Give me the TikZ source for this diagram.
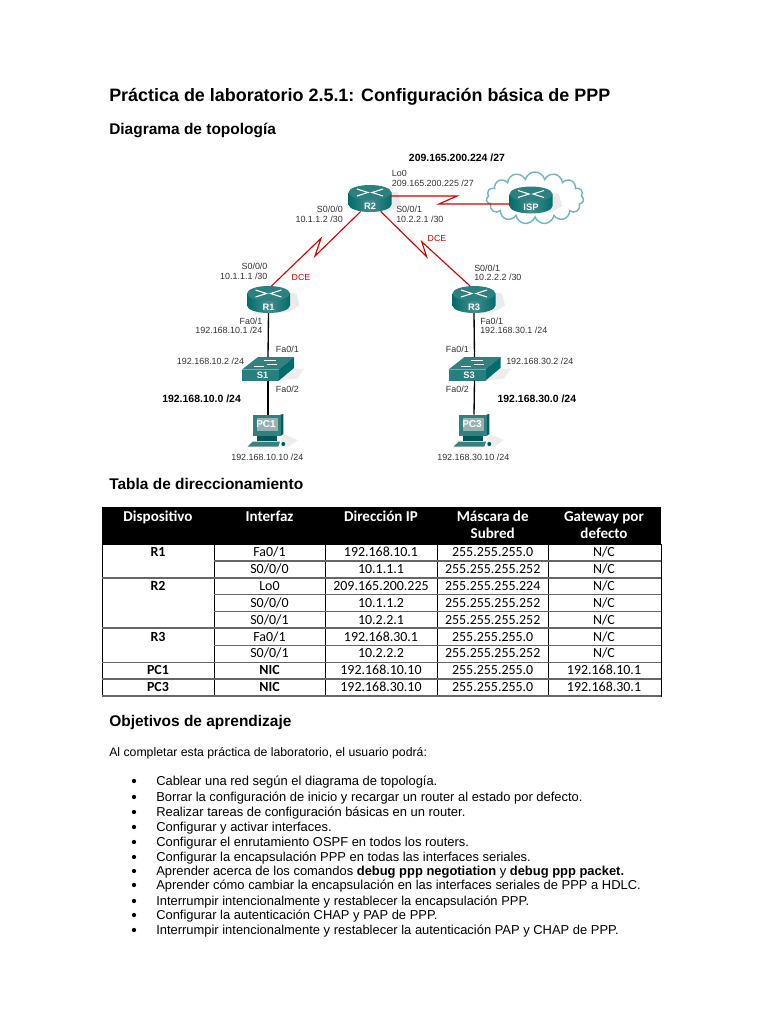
\documentclass[tikz,border=0pt]{standalone}
\usepackage{fontspec}
\setmainfont{Liberation Sans}
\newfontfamily\tablefont{Carlito}
\usetikzlibrary{shapes.symbols}

\begin{document}
\begin{tikzpicture}[
  x=0.75pt, y=-0.75pt,
  routericon/.pic={
    \fill[gray!35, opacity=.45] (6,-9) -- (28,-6) -- (31,6) -- (21,12) -- (6,14) -- cycle;
    \shade[left color=teal!85!black, right color=teal!85!black, middle color=teal!60!gray!90]
      (-21.5,-6) -- (-21.5,6) .. controls (-21.5,10.2) and (-11.9,13.5) .. (0,13.5)
      .. controls (11.9,13.5) and (21.5,10.2) .. (21.5,6) -- (21.5,-6) -- cycle;
    \fill[teal!65!gray] (0,-6) ellipse (21.5 and 7.5);
    \draw[white, line width=0.8pt] (-13,-9.5) -- (-2,-6) -- (-13,-2.5);
    \draw[white, line width=0.8pt] (13,-9.5) -- (2,-6) -- (13,-2.5);
    \node[text=white, font=\fontsize{7}{8}\selectfont\bfseries, inner sep=0pt] (-name) at (0,7.5) {#1};
    \coordinate (-sw) at (-9.3,13);
    \coordinate (-se) at (10.7,13);
    \coordinate (-e) at (20.5,-2.5);
    \coordinate (-w) at (-21,4);
    \coordinate (-s) at (0,13.5);
    \coordinate (-ne) at (3,-13.5);
    \coordinate (-nw) at (-4,-13.5);
  },
  switchicon/.pic={
    \fill[gray!35, opacity=.4] (11,11) -- (30,9) -- (36,-1) -- (26,-1) -- cycle;
    \fill[teal!60!gray] (-26,0) -- (-10,-12.5) -- (26,-12.5) -- (11,0) -- cycle;
    \fill[teal!85!black] (11,0) -- (26,-12.5) -- (26,-1.5) -- (11,11) -- cycle;
    \fill[teal!70!gray] (-26,0) rectangle (11,11);
    \draw[white, line width=0.6pt] (-4,-9.5) -- (8,-9.5) (-14,-3) -- (-4,-3) (-1,-5) -- (9,-5);
    \node[text=white, font=\fontsize{7}{8}\selectfont\bfseries, inner sep=0pt] (-name) at (-5.5,5.5) {#1};
    \coordinate (-top) at (0,-12.5);
    \coordinate (-bot) at (0,11);
  },
  pcicon/.pic={
    \fill[gray!35, opacity=.4] (15,20) -- (30,26) -- (20,33) -- (12,33) -- cycle;
    \fill[teal!75!black] (12.7,0.5) -- (15.3,0) -- (15.3,20) -- (12.7,22) -- cycle;
    \fill[teal!60!gray] (-14.7,0.5) rectangle (12.7,22);
    \fill[teal!35!gray!60] (-11.5,3.5) rectangle (9.5,17);
    \fill[teal!70!black] (-11.3,22) rectangle (8.7,26.7);
    \fill[teal!55!gray] (-20.7,32.7) -- (-15.3,27.7) -- (12,27.7) -- (10.3,32.7) -- cycle;
    \fill[teal!70!black] (15.3,30) ellipse (2 and 2);
    \node[text=white, font=\fontsize{7.5}{8}\selectfont\bfseries, inner sep=0pt] (-name) at (-2,10.5) {#1};
    \coordinate (-top) at (0,0.5);
  },
  ispcloud/.style={
    cloud, cloud puffs=15, cloud ignores aspect, draw=teal!55!white, line width=1.1pt, fill=white,
    minimum width=73pt, minimum height=39pt, inner sep=0pt
  },
  serial/.style={red!85!black, line width=0.85pt},
  lan/.style={black, line width=1pt},
  addr/.style={inner sep=0pt, text=black!80, text height=.72em, text depth=0pt, font=\fontsize{6.7}{8}\selectfont},
  netaddr/.style={inner sep=0pt, text height=.72em, text depth=0pt, font=\fontsize{7.85}{9}\selectfont\bfseries},
  dcelabel/.style={inner sep=0pt, text=red!80!black, text height=.72em, text depth=0pt, font=\fontsize{6.6}{8}\selectfont},
  heading/.style={anchor=west, inner sep=0pt, text height=.72em, text depth=0pt, font=\fontsize{11.6}{13}\selectfont\bfseries},
  bodytext/.style={anchor=west, inner sep=0pt, text height=.72em, text depth=0pt, font=\fontsize{9.7}{11}\selectfont},
  dotmark/.style={circle, fill=black, inner sep=0pt, minimum size=3.2pt},
  headcell/.style={inner sep=0pt, text=white, text height=.62em, text depth=0pt, font=\tablefont\fontsize{11.3}{13}\selectfont\bfseries},
  cell/.style={inner sep=0pt, text height=.62em, text depth=0pt, font=\tablefont\fontsize{10.45}{12}\selectfont},
  boldcell/.style={cell, font=\tablefont\fontsize{10.45}{12}\selectfont\bfseries},
  rowline/.style={black!60, line width=1pt},
  colline/.style={black, line width=0.6pt},
]
\useasboundingbox (0,0) rectangle (768,1024);

%% Headings
\node[heading, font=\fontsize{13.45}{15}\selectfont\bfseries] (title) at (109,96.5) {Práctica de laboratorio 2.5.1: Configuración básica de PPP};
\node[heading] (topo) at (109,130) {Diagrama de topología};
\node[heading] (tabla) at (109,485) {Tabla de direccionamiento};
\node[heading] (obj) at (109,722) {Objetivos de aprendizaje};

%% Topology devices
\node[ispcloud] (cloud) at (535,198) {};
\pic (r2) at (370,198.5) {routericon=R2};
\pic (r1) at (268.5,299.5) {routericon=R1};
\pic (r3) at (474,299.5) {routericon=R3};
\pic (isp) at (531,200) {routericon=ISP};
\pic (s1) at (268,369.5) {switchicon=S1};
\pic (s3) at (474.5,369.5) {switchicon=S3};
\pic (pc1) at (268,414) {pcicon=PC1};
\pic (pc3) at (474,414) {pcicon=PC3};

%% Serial links
\draw[serial] (r2-e) -- (457,196) -- (439,204) -- (isp-w);
\draw[serial] (r2-sw) -- (315,256) -- (321,238.3) -- (r1-ne);
\draw[serial] (r2-se) -- (426.7,256.7) -- (421.7,241.7) -- (r3-nw);

%% Ethernet links
\draw[lan] (r1-s) -- (s1-top);
\draw[lan] (s1-bot) -- (pc1-top);
\draw[lan] (r3-s) -- (s3-top);
\draw[lan] (s3-bot) -- (pc3-top);

%% Topology labels
\node[netaddr] (lonet) at (457,157) {209.165.200.224 /27};
\node[addr, anchor=west] (r2lo) at (391.7,172) {Lo0};
\node[addr, anchor=west] (r2loip) at (391.7,181.5) {209.165.200.225 /27};
\node[addr, anchor=east] (r2s0) at (343,208) {S0/0/0};
\node[addr, anchor=east] (r2s0ip) at (343,217.7) {10.1.1.2 /30};
\node[addr, anchor=west] (r2s1) at (396,208) {S0/0/1};
\node[addr, anchor=west] (r2s1ip) at (396,217.7) {10.2.2.1 /30};
\node[dcelabel] (dce3) at (437,237) {DCE};
\node[dcelabel] (dce1) at (301,276) {DCE};
\node[addr, anchor=east] (r1s0) at (267.7,265) {S0/0/0};
\node[addr, anchor=east] (r1s0ip) at (267.7,274.5) {10.1.1.1 /30};
\node[addr, anchor=west] (r3s1) at (474,266.3) {S0/0/1};
\node[addr, anchor=west] (r3s1ip) at (474,275.7) {10.2.2.2 /30};
\node[addr, anchor=east] (r1fa) at (262.7,320) {Fa0/1};
\node[addr, anchor=east] (r1faip) at (262.7,329) {192.168.10.1 /24};
\node[addr, anchor=west] (r3fa) at (480,320) {Fa0/1};
\node[addr, anchor=west] (r3faip) at (480,329) {192.168.30.1 /24};
\node[addr, anchor=west] (s1fa1) at (275.7,347.3) {Fa0/1};
\node[addr, anchor=east] (s1ip) at (244.3,360) {192.168.10.2 /24};
\node[addr, anchor=west] (s1fa2) at (275.7,387.3) {Fa0/2};
\node[netaddr, anchor=west] (lan1) at (162,398) {192.168.10.0 /24};
\node[addr] (pc1ip) at (267.3,455.3) {192.168.10.10 /24};
\node[addr, anchor=east] (s3fa1) at (469,347.3) {Fa0/1};
\node[addr, anchor=west] (s3ip) at (506,360) {192.168.30.2 /24};
\node[addr, anchor=east] (s3fa2) at (469,387.3) {Fa0/2};
\node[netaddr, anchor=west] (lan3) at (497.3,398) {192.168.30.0 /24};
\node[addr] (pc3ip) at (473.3,455.3) {192.168.30.10 /24};

%% Table frame
\fill[black] (102,507) rectangle (661,544);
\draw[colline] (102,544) rectangle (661,696);
\draw[colline] (214,544) -- (214,696);
\draw[colline] (325.5,544) -- (325.5,696);
\draw[colline] (437.7,544) -- (437.7,696);
\draw[colline] (548.7,544) -- (548.7,696);
\draw[rowline] (214,561) -- (661,561);
\draw[rowline] (102,578) -- (661,578);
\draw[rowline] (214,594.5) -- (661,594.5);
\draw[rowline] (214,611.5) -- (661,611.5);
\draw[rowline] (102,628) -- (661,628);
\draw[rowline] (214,645.5) -- (661,645.5);
\draw[rowline] (102,662.5) -- (661,662.5);
\draw[rowline] (102,679) -- (661,679);
\draw[rowline] (102,696) -- (661,696);

%% Table header
\node[headcell] (hdev) at (158,517) {Dispositivo};
\node[headcell] (hint) at (269.5,517) {Interfaz};
\node[headcell] (hip) at (381,517) {Dirección IP};
\node[headcell] (hmask) at (492.7,517) {Máscara de};
\node[headcell] (hmask2) at (492.7,534) {Subred};
\node[headcell] (hgw) at (604,517) {Gateway por};
\node[headcell] (hgw2) at (604,534) {defecto};

%% Table rows
\node[boldcell] (d1) at (158,552.7) {R1};
\node[cell] (i1) at (269.5,552.7) {Fa0/1};
\node[cell] (a1) at (381,552.7) {192.168.10.1};
\node[cell] (m1) at (492.7,552.7) {255.255.255.0};
\node[cell] (g1) at (604,552.7) {N/C};
\node[cell] (i2) at (269.5,569.7) {S0/0/0};
\node[cell] (a2) at (381,569.7) {10.1.1.1};
\node[cell] (m2) at (492.7,569.7) {255.255.255.252};
\node[cell] (g2) at (604,569.7) {N/C};
\node[boldcell] (d3) at (158,586) {R2};
\node[cell] (i3) at (269.5,586) {Lo0};
\node[cell] (a3) at (381,586) {209.165.200.225};
\node[cell] (m3) at (492.7,586) {255.255.255.224};
\node[cell] (g3) at (604,586) {N/C};
\node[cell] (i4) at (269.5,603) {S0/0/0};
\node[cell] (a4) at (381,603) {10.1.1.2};
\node[cell] (m4) at (492.7,603) {255.255.255.252};
\node[cell] (g4) at (604,603) {N/C};
\node[cell] (i5) at (269.5,620.3) {S0/0/1};
\node[cell] (a5) at (381,620.3) {10.2.2.1};
\node[cell] (m5) at (492.7,620.3) {255.255.255.252};
\node[cell] (g5) at (604,620.3) {N/C};
\node[boldcell] (d6) at (158,637) {R3};
\node[cell] (i6) at (269.5,637) {Fa0/1};
\node[cell] (a6) at (381,637) {192.168.30.1};
\node[cell] (m6) at (492.7,637) {255.255.255.0};
\node[cell] (g6) at (604,637) {N/C};
\node[cell] (i7) at (269.5,653.3) {S0/0/1};
\node[cell] (a7) at (381,653.3) {10.2.2.2};
\node[cell] (m7) at (492.7,653.3) {255.255.255.252};
\node[cell] (g7) at (604,653.3) {N/C};
\node[boldcell] (d8) at (158,670.7) {PC1};
\node[boldcell] (i8) at (269.5,670.7) {NIC};
\node[cell] (a8) at (381,670.7) {192.168.10.10};
\node[cell] (m8) at (492.7,670.7) {255.255.255.0};
\node[cell] (g8) at (604,670.7) {192.168.10.1};
\node[boldcell] (d9) at (158,687.7) {PC3};
\node[boldcell] (i9) at (269.5,687.7) {NIC};
\node[cell] (a9) at (381,687.7) {192.168.30.10};
\node[cell] (m9) at (492.7,687.7) {255.255.255.0};
\node[cell] (g9) at (604,687.7) {192.168.30.1};

%% Objectives
\node[bodytext, font=\fontsize{9.2}{11}\selectfont] (intro) at (109,752) {Al completar esta práctica de laboratorio, el usuario podrá:};
\node[dotmark] (b1) at (134,781) {};
\node[bodytext] (t1) at (156,781) {Cablear una red según el diagrama de topología.};
\node[dotmark] (b2) at (134,797) {};
\node[bodytext] (t2) at (156,797) {Borrar la configuración de inicio y recargar un router al estado por defecto.};
\node[dotmark] (b3) at (134,812) {};
\node[bodytext] (t3) at (156,812) {Realizar tareas de configuración básicas en un router.};
\node[dotmark] (b4) at (134,827) {};
\node[bodytext] (t4) at (156,827) {Configurar y activar interfaces.};
\node[dotmark] (b5) at (134,842) {};
\node[bodytext] (t5) at (156,842) {Configurar el enrutamiento OSPF en todos los routers.};
\node[dotmark] (b6) at (134,857) {};
\node[bodytext] (t6) at (156,857) {Configurar la encapsulación PPP en todas las interfaces seriales.};
\node[dotmark] (b7) at (134,871) {};
\node[bodytext] (t7) at (156,871) {Aprender acerca de los comandos \textbf{debug ppp negotiation} y \textbf{debug ppp packet.}};
\node[dotmark] (b8) at (134,885) {};
\node[bodytext] (t8) at (156,885) {Aprender cómo cambiar la encapsulación en las interfaces seriales de PPP a HDLC.};
\node[dotmark] (b9) at (134,901) {};
\node[bodytext] (t9) at (156,901) {Interrumpir intencionalmente y restablecer la encapsulación PPP.};
\node[dotmark] (b10) at (134,915) {};
\node[bodytext] (t10) at (156,915) {Configurar la autenticación CHAP y PAP de PPP.};
\node[dotmark] (b11) at (134,930) {};
\node[bodytext] (t11) at (156,930) {Interrumpir intencionalmente y restablecer la autenticación PAP y CHAP de PPP.};

\end{tikzpicture}
\end{document}
